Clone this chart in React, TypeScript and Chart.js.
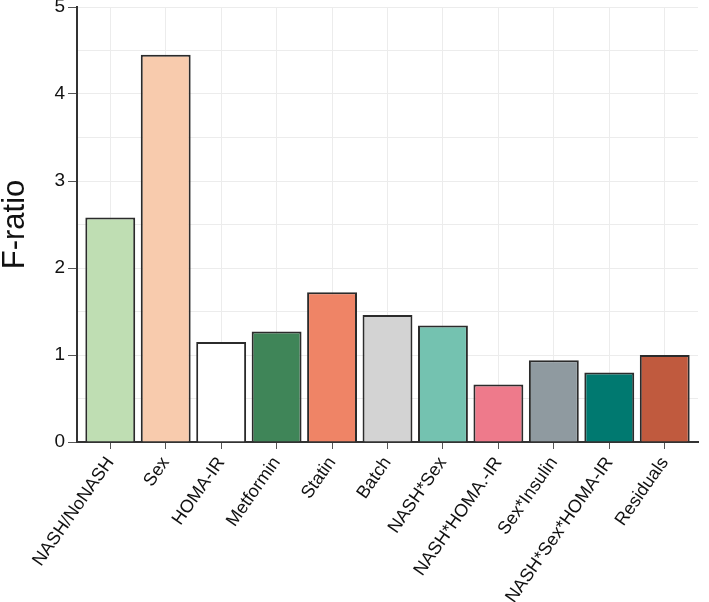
import React, { useEffect, useRef } from "react";
import { Chart, registerables } from "chart.js";

Chart.register(...registerables);

const categories = [
  "NASH/NoNASH",
  "Sex",
  "HOMA-IR",
  "Metformin",
  "Statin",
  "Batch",
  "NASH*Sex",
  "NASH*HOMA.-IR",
  "Sex*Insulin",
  "NASH*Sex*HOMA-IR",
  "Residuals",
];
const fRatio = [2.58, 4.45, 1.15, 1.27, 1.72, 1.46, 1.34, 0.66, 0.94, 0.8, 1.0];
const barColors = [
  "#bfdeb3",
  "#f8cbad",
  "#ffffff",
  "#3f8558",
  "#ef8466",
  "#d3d3d3",
  "#74c2b0",
  "#ee7a8b",
  "#8f9aa0",
  "#007970",
  "#c05a3e",
];
const yTicks = [0, 1, 2, 3, 4, 5];

export default function App() {
  const ref = useRef<HTMLCanvasElement | null>(null);
  useEffect(() => {
    if (!ref.current) return;
    const chart = new Chart(ref.current, {
      type: "bar",
      data: {
        datasets: [
          {
            data: fRatio.map((v, i) => ({ x: i, y: v })),
            backgroundColor: barColors,
            borderColor: "#2b2b2b",
            borderWidth: 2,
            barPercentage: 0.9,
            categoryPercentage: 1,
          },
        ],
      },
      options: {
        animation: false,
        responsive: true,
        maintainAspectRatio: false,
        layout: { padding: { top: 7, right: 11, left: 0, bottom: 0 } },
        plugins: { legend: { display: false }, tooltip: { enabled: false } },
        scales: {
          x: {
            type: "linear",
            min: -0.6,
            max: 10.6,
            offset: false,
            afterBuildTicks: (axis: any) => {
              axis.ticks = categories.map((_, i) => ({ value: i }));
            },
            afterFit: (scale: any) => {
              scale.height = 160;
              scale.paddingLeft = 0;
              scale.paddingRight = 0;
            },
            grid: {
              offset: false,
              color: "#ececec",
              lineWidth: 1,
              tickLength: 7,
              tickColor: "#555555",
              drawTicks: true,
            },
            border: { color: "#333333", width: 2 },
            ticks: {
              autoSkip: false,
              minRotation: 55,
              maxRotation: 55,
              padding: 4,
              color: "#111111",
              font: { family: "Liberation Sans, Arial, sans-serif", size: 18 },
              callback: (v: any) => categories[Math.round(v)] ?? "",
            },
          },
          y: {
            min: 0,
            max: 5,
            afterFit: (scale: any) => {
              scale.width = 77;
              scale.paddingTop = 0;
              scale.paddingBottom = 0;
            },
            grid: {
              color: "#ececec",
              lineWidth: 1,
              tickLength: 9,
              tickColor: (ctx: any) =>
                ctx.tick && yTicks.includes(ctx.tick.value) ? "#555555" : "rgba(0,0,0,0)",
            },
            border: { color: "#333333", width: 2 },
            ticks: {
              stepSize: 0.5,
              padding: 3,
              color: "#111111",
              font: { family: "Liberation Sans, Arial, sans-serif", size: 19 },
              callback: (v: any) => (yTicks.includes(v) ? String(v) : ""),
            },
            title: {
              display: true,
              text: "F-ratio",
              color: "#111111",
              padding: { top: 0, bottom: 0 },
              font: { family: "Liberation Sans, Arial, sans-serif", size: 31, lineHeight: 1 },
            },
          },
        },
      },
    } as any);
    return () => chart.destroy();
  }, []);
  return (
    <div style={{ position: "absolute", left: 0, top: 0, width: 709, height: 602 }}>
      <canvas ref={ref} />
    </div>
  );
}
